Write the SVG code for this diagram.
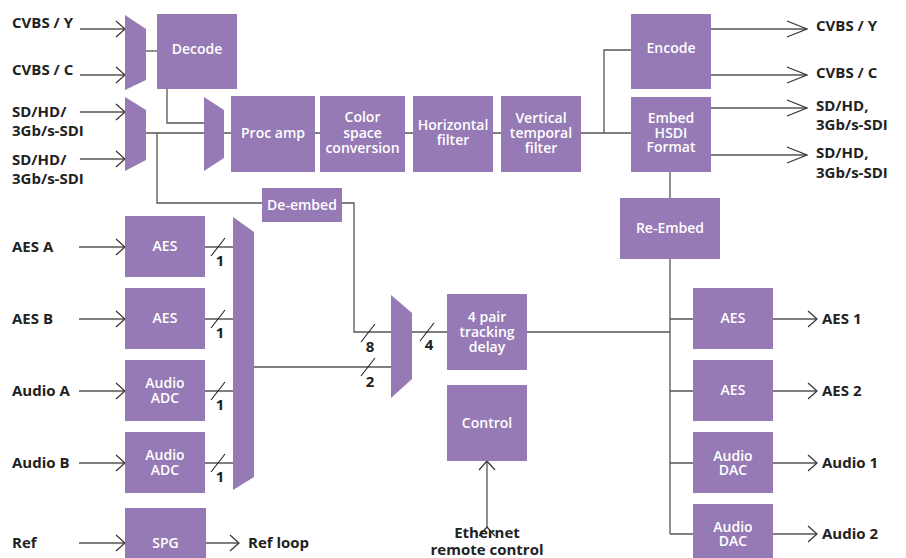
<svg xmlns="http://www.w3.org/2000/svg" width="906" height="558" viewBox="0 0 906 558">
<defs>
<style>
.b{fill:#967ab6}
.bt{fill:#ffffff;font-family:"Open Sans","Liberation Sans",sans-serif;font-weight:600;font-size:14px;text-anchor:middle}
.lb{fill:#222222;font-family:"Open Sans","Liberation Sans",sans-serif;font-weight:700;font-size:15px}
.ln{fill:none;stroke:#555555;stroke-width:1.3}
.sl{fill:none;stroke:#222222;stroke-width:1.1}
.ah{fill:none;stroke:#333333;stroke-width:1.2}
</style>
<marker id="a" markerUnits="userSpaceOnUse" markerWidth="24" markerHeight="20" refX="10" refY="9" orient="auto" viewBox="0 0 24 20" overflow="visible">
<path d="M1,1 L10,9 L1,17" class="ah"/>
</marker>
<marker id="aw" markerUnits="userSpaceOnUse" markerWidth="24" markerHeight="20" refX="21" refY="9" orient="auto" viewBox="0 0 24 20" overflow="visible">
<path d="M1,1 L21,9 L1,17" class="ah"/>
</marker>
</defs>
<rect width="906" height="558" fill="#ffffff"/>

<g id="connectors">
<path class="ln" d="M80,29 H125" marker-end="url(#a)"/>
<path class="ln" d="M80,75 H125" marker-end="url(#a)"/>
<path class="ln" d="M80,112 H125" marker-end="url(#a)"/>
<path class="ln" d="M80,159 H125" marker-end="url(#a)"/>
<path class="ln" d="M146,51 H157"/>
<path class="ln" d="M167,89 V123 H204"/>
<path class="ln" d="M146,133 H204"/>
<path class="ln" d="M157,133 V203 H262"/>
<path class="ln" d="M224,133 H231 M315,133 H320 M405,133 H413 M493,133 H501 M581,133 H631"/>
<path class="ln" d="M604,133 V50 H631"/>
<path class="ln" d="M711,29 H807" marker-end="url(#aw)"/>
<path class="ln" d="M711,75 H807" marker-end="url(#aw)"/>
<path class="ln" d="M711,108 H807" marker-end="url(#aw)"/>
<path class="ln" d="M711,155 H807" marker-end="url(#aw)"/>
<path class="ln" d="M670,172 V198"/>
<path class="ln" d="M670,259 V534"/>
<path class="ln" d="M670,319 H693 M670,391 H693 M670,463 H693 M670,534 H693"/>
<path class="ln" d="M773,319 H817" marker-end="url(#a)"/>
<path class="ln" d="M773,391 H817" marker-end="url(#a)"/>
<path class="ln" d="M773,463 H817" marker-end="url(#a)"/>
<path class="ln" d="M773,534 H817" marker-end="url(#a)"/>
<path class="ln" d="M79,247 H125" marker-end="url(#a)"/>
<path class="ln" d="M79,319 H125" marker-end="url(#a)"/>
<path class="ln" d="M79,391 H125" marker-end="url(#a)"/>
<path class="ln" d="M79,463 H125" marker-end="url(#a)"/>
<path class="ln" d="M205,247 H233 M205,319 H233 M205,391 H233 M205,463 H233"/>
<path class="sl" d="M211,256 L225,238 M211,328 L225,310 M211,400 L225,382 M211,472 L225,454"/>
<path class="ln" d="M254,367 H391"/>
<path class="ln" d="M342,203 H354 V332 H391"/>
<path class="sl" d="M361,342 L375,324 M361,376 L375,358"/>
<path class="ln" d="M412,332 H447"/>
<path class="sl" d="M420,341 L434,323"/>
<path class="ln" d="M527,332 H670"/>
<path class="ln" d="M487,527 V461" marker-end="url(#a)" marker-start="url(#a)"/>
<path class="ln" d="M79,543 H125" marker-end="url(#a)"/>
<path class="ln" d="M206,543 H239" marker-end="url(#a)"/>
</g>

<g id="mux1"><polygon class="b" points="125,15 146,29 146,80 125,90"/></g>
<g id="mux2"><polygon class="b" points="125,97 146,110 146,160 125,171"/></g>
<g id="mux3"><polygon class="b" points="204,97 224,110 224,158 204,171"/></g>
<g id="mux-audio"><polygon class="b" points="233,217 254,232 254,477 233,490"/></g>
<g id="mux4"><polygon class="b" points="391,295 412,313 412,379 391,398"/></g>

<g id="decode"><rect class="b" x="157" y="14" width="80" height="75"/><text class="bt" x="197" y="54">Decode</text></g>
<g id="procamp"><rect class="b" x="231" y="96" width="84" height="76"/><text class="bt" x="273" y="138">Proc amp</text></g>
<g id="csc"><rect class="b" x="320" y="96" width="85" height="76"/><text class="bt" x="362.5" y="122">Color</text><text class="bt" x="362.5" y="138">space</text><text class="bt" x="362.5" y="153">conversion</text></g>
<g id="hfilter"><rect class="b" x="413" y="96" width="80" height="76"/><text class="bt" x="453" y="130">Horizontal</text><text class="bt" x="453" y="145">filter</text></g>
<g id="vtfilter"><rect class="b" x="501" y="96" width="80" height="76"/><text class="bt" x="541" y="123">Vertical</text><text class="bt" x="541" y="138">temporal</text><text class="bt" x="541" y="153">filter</text></g>
<g id="encode"><rect class="b" x="631" y="14" width="80" height="75"/><text class="bt" x="671" y="53">Encode</text></g>
<g id="embed"><rect class="b" x="631" y="97" width="80" height="75"/><text class="bt" x="671" y="123">Embed</text><text class="bt" x="671" y="138">HSDI</text><text class="bt" x="671" y="152">Format</text></g>
<g id="deembed"><rect class="b" x="262" y="188" width="80" height="34"/><text class="bt" x="302" y="210">De-embed</text></g>
<g id="reembed"><rect class="b" x="620" y="198" width="100" height="61"/><text class="bt" x="670" y="233">Re-Embed</text></g>

<g id="aes-in-a"><rect class="b" x="125" y="216" width="80" height="61"/><text class="bt" x="165" y="251">AES</text></g>
<g id="aes-in-b"><rect class="b" x="125" y="288" width="80" height="61"/><text class="bt" x="165" y="323">AES</text></g>
<g id="adc-a"><rect class="b" x="125" y="360" width="80" height="61"/><text class="bt" x="165" y="388">Audio</text><text class="bt" x="165" y="403">ADC</text></g>
<g id="adc-b"><rect class="b" x="125" y="432" width="80" height="61"/><text class="bt" x="165" y="460">Audio</text><text class="bt" x="165" y="475">ADC</text></g>
<g id="spg"><rect class="b" x="125" y="508" width="81" height="61"/><text class="bt" x="165.5" y="548">SPG</text></g>

<g id="delay"><rect class="b" x="447" y="294" width="80" height="76"/><text class="bt" x="487" y="322">4 pair</text><text class="bt" x="487" y="337">tracking</text><text class="bt" x="487" y="352">delay</text></g>
<g id="control"><rect class="b" x="447" y="385" width="80" height="76"/><text class="bt" x="487" y="428">Control</text></g>

<g id="aes-out-1"><rect class="b" x="693" y="288" width="80" height="61"/><text class="bt" x="733" y="323">AES</text></g>
<g id="aes-out-2"><rect class="b" x="693" y="360" width="80" height="61"/><text class="bt" x="733" y="395">AES</text></g>
<g id="dac-1"><rect class="b" x="693" y="432" width="80" height="61"/><text class="bt" x="733" y="461">Audio</text><text class="bt" x="733" y="475">DAC</text></g>
<g id="dac-2"><rect class="b" x="693" y="504" width="80" height="61"/><text class="bt" x="733" y="532">Audio</text><text class="bt" x="733" y="546">DAC</text></g>

<g id="labels">
<text class="lb" x="12" y="28">CVBS / Y</text>
<text class="lb" x="12" y="75">CVBS / C</text>
<text class="lb" x="12" y="117">SD/HD/</text>
<text class="lb" x="12" y="136">3Gb/s-SDI</text>
<text class="lb" x="12" y="165">SD/HD/</text>
<text class="lb" x="12" y="184">3Gb/s-SDI</text>
<text class="lb" x="816" y="31">CVBS / Y</text>
<text class="lb" x="816" y="78">CVBS / C</text>
<text class="lb" x="816" y="111">SD/HD,</text>
<text class="lb" x="816" y="130">3Gb/s-SDI</text>
<text class="lb" x="816" y="158">SD/HD,</text>
<text class="lb" x="816" y="178">3Gb/s-SDI</text>
<text class="lb" x="12" y="252">AES A</text>
<text class="lb" x="12" y="324">AES B</text>
<text class="lb" x="12" y="396">Audio A</text>
<text class="lb" x="12" y="468">Audio B</text>
<text class="lb" x="12" y="548">Ref</text>
<text class="lb" x="248" y="548">Ref loop</text>
<text class="lb" x="822" y="324">AES 1</text>
<text class="lb" x="822" y="396">AES 2</text>
<text class="lb" x="822" y="468">Audio 1</text>
<text class="lb" x="822" y="539">Audio 2</text>
<text class="lb" x="487" y="538" text-anchor="middle">Ethernet</text>
<text class="lb" x="487" y="555" text-anchor="middle">remote control</text>
<text class="lb" x="220" y="266" text-anchor="middle">1</text>
<text class="lb" x="220" y="338" text-anchor="middle">1</text>
<text class="lb" x="220" y="410" text-anchor="middle">1</text>
<text class="lb" x="220" y="482" text-anchor="middle">1</text>
<text class="lb" x="370" y="352" text-anchor="middle">8</text>
<text class="lb" x="370" y="387" text-anchor="middle">2</text>
<text class="lb" x="429" y="350" text-anchor="middle">4</text>
</g>
</svg>
